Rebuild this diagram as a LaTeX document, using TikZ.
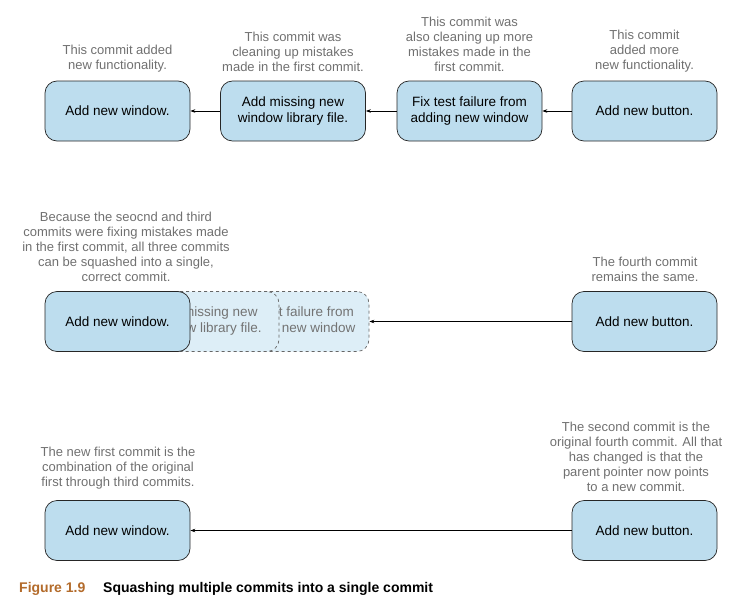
\documentclass[tikz,border=0pt]{standalone}
\usepackage{fontspec}
\setmainfont{Liberation Sans}
\usetikzlibrary{arrows.meta}
\definecolor{boxfill}{HTML}{BDDDEE}
\definecolor{ghostfill}{HTML}{DDEEF7}
\definecolor{labelgray}{HTML}{707070}
\definecolor{figbrown}{HTML}{B36B2B}
\tikzset{
  commit/.style={draw=black!85, line width=0.7pt, fill=boxfill, rounded corners=12pt,
    minimum width=145pt, minimum height=60pt, align=center, font=\fontsize{13.5}{16}\selectfont, inner sep=0pt},
  ghost/.style={commit, draw=black!60, dashed, fill=ghostfill, text=black!55},
  note/.style={align=center, text=labelgray, font=\fontsize{13}{15}\selectfont, inner sep=0pt},
  link/.style={draw=black, line width=0.6pt, -{Stealth[length=5pt,width=3.5pt]}}
}
\begin{document}
\begin{tikzpicture}[x=1pt,y=-1pt]
\useasboundingbox (0,0) rectangle (736,602);
% Row 1
\node[commit] (a1) at (117.5,111) {Add new window.};
\node[commit] (b1) at (293,111) {Add missing new\\window library file.};
\node[commit] (c1) at (469.5,111) {Fix test failure from\\adding new window};
\node[commit] (d1) at (644.5,111) {Add new button.};
\draw[link] (b1) -- (a1);
\draw[link] (c1) -- (b1);
\draw[link] (d1) -- (c1);
\node[note, anchor=south] (na1) at (117.5,72) {This commit added\\new functionality.};
\node[note, anchor=south] (nb1) at (293,72) {This commit was\\cleaning up mistakes\\made in the first commit.};
\node[note, anchor=south] (nc1) at (469.5,72) {This commit was\\also cleaning up more\\mistakes made in the\\first commit.};
\node[note, anchor=south] (nd1) at (644.5,72) {This commit\\added more\\new functionality.};
% Row 2
\node[ghost] (c2) at (296.5,321.5) {Fix test failure from\\adding new window};
\node[ghost] (b2) at (206.5,321.5) {Add missing new\\window library file.};
\node[commit] (a2) at (117.5,321.5) {Add new window.};
\node[commit] (d2) at (644.5,321.5) {Add new button.};
\draw[link] (d2) -- (c2);
\node[note, anchor=south] (na2) at (126,282) {Because the seocnd and third\\commits were fixing mistakes made\\in the first commit, all three commits\\can be squashed into a single,\\correct commit.};
\node[note, anchor=south] (nd2) at (645,282) {The fourth commit\\remains the same.};
% Row 3
\node[commit] (a3) at (117.5,530.5) {Add new window.};
\node[commit] (d3) at (644.5,530.5) {Add new button.};
\draw[link] (d3) -- (a3);
\node[note, anchor=south] (na3) at (118,489) {The new first commit is the\\combination of the original\\first through third commits.};
\node[note, anchor=south] (nd3) at (636,492) {The second commit is the\\original fourth commit. All that\\has changed is that the\\parent pointer now points\\to a new commit.};
% Caption
\node[anchor=base west, inner sep=0pt, font=\fontsize{14}{16}\selectfont\bfseries, text=figbrown] (fig) at (19,592) {Figure 1.9};
\node[anchor=base west, inner sep=0pt, font=\fontsize{14}{16}\selectfont\bfseries] (cap) at (103,592) {Squashing multiple commits into a single commit};
\end{tikzpicture}
\end{document}
